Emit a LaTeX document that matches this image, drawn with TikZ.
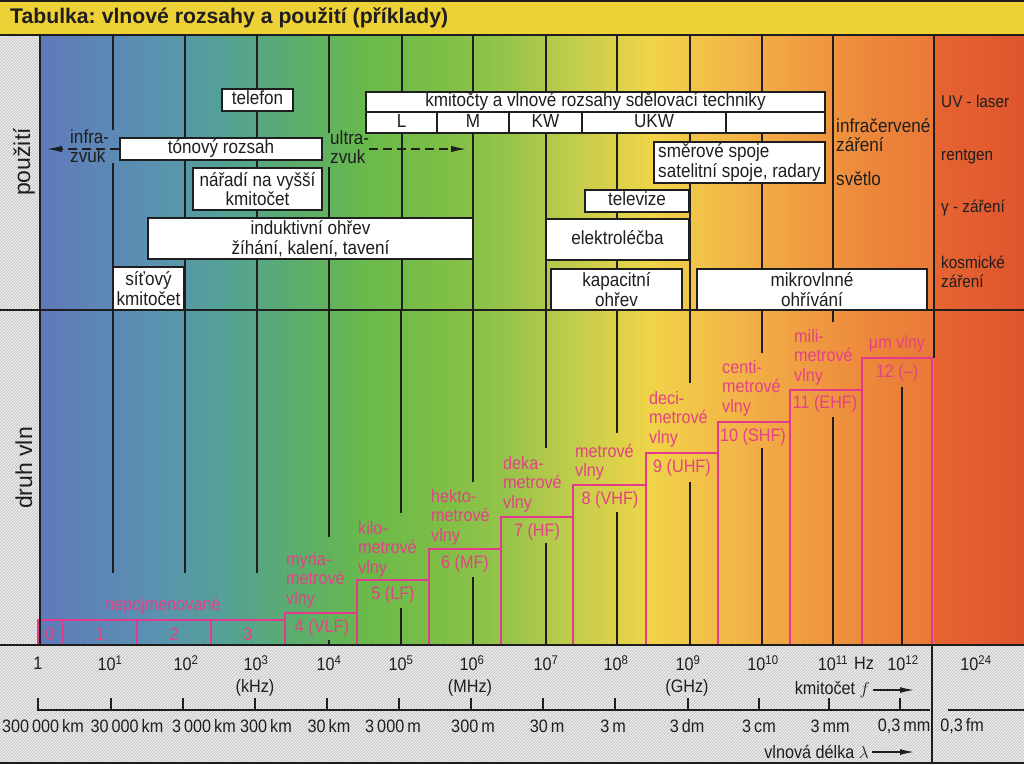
\documentclass[tikz,border=0pt]{standalone}
\usepackage{fontspec}
\setmainfont{Liberation Sans}[FakeStretch=0.9]
\newfontfamily\hdfont{Liberation Sans}
\usetikzlibrary{patterns,arrows.meta}
\definecolor{ink}{RGB}{30,30,30}
\definecolor{pinkc}{RGB}{228,58,142}
\definecolor{pinkt}{RGB}{226,66,134}
\definecolor{hdr}{RGB}{238,208,55}
\definecolor{hatch}{RGB}{203,203,203}
\definecolor{s0}{RGB}{95,122,185}
\definecolor{s1}{RGB}{90,145,178}
\definecolor{s2}{RGB}{85,160,152}
\definecolor{s3}{RGB}{90,172,112}
\definecolor{s4}{RGB}{105,185,75}
\definecolor{s5}{RGB}{125,190,70}
\definecolor{s6}{RGB}{152,196,75}
\definecolor{s7}{RGB}{198,205,75}
\definecolor{s8}{RGB}{240,212,72}
\definecolor{s9}{RGB}{242,185,72}
\definecolor{s10}{RGB}{240,158,66}
\definecolor{s11}{RGB}{236,132,58}
\definecolor{s12}{RGB}{233,120,55}
\definecolor{s13}{RGB}{230,100,50}
\definecolor{s14}{RGB}{222,85,45}
\newcommand\tpow[1]{10\textsuperscript{#1}}
\begin{document}
\begin{tikzpicture}[x=1pt,y=-1pt,
  box/.style={draw=ink, line width=1.4pt, fill=white, inner sep=0pt, align=center, text=ink, font=\fontsize{19}{19.5}\selectfont},
  sbox/.style={box, text height=13.5pt, text depth=4pt},
  grid/.style={draw=ink, line width=1.3pt},
  pk/.style={draw=pinkc, line width=1.5pt},
  ptxt/.style={text=pinkt, font=\fontsize{18}{19.5}\selectfont, inner sep=0pt, align=left},
  lbl/.style={text=ink, font=\fontsize{19}{19.5}\selectfont, inner sep=0pt, align=left},
  rtx/.style={text=ink, font=\fontsize{17}{19}\selectfont, inner sep=0pt, align=left},
  ax/.style={text=ink, font=\fontsize{18}{20}\selectfont, inner sep=0pt},
  axl/.style={draw=ink, line width=1.3pt},
  arr/.style={draw=ink, line width=1.3pt, -{Latex[length=15pt,width=6.5pt]}},
  dsh/.style={arr, dash pattern=on 9pt off 5pt}]
\useasboundingbox (0,0) rectangle (1024,764);
% header
\fill[hdr] (0,0) rectangle (1024,35);
\draw[ink, line width=1.5pt] (0,1) -- (1024,1);
\node[anchor=west, inner sep=0pt, text=ink, font=\hdfont\bfseries\fontsize{21.2}{22}\selectfont] (title) at (10,18) {Tabulka:\hspace{6pt}vlnové rozsahy a použití (příklady)};
% spectrum background
\foreach \xa/\xb/\ca/\cb in {40/150/s0/s1, 150/220/s1/s2, 220/290/s2/s3, 290/365/s3/s4, 365/440/s4/s5, 440/510/s5/s6, 510/580/s6/s7, 580/650/s7/s8, 650/725/s8/s9, 725/800/s9/s10, 800/880/s10/s11, 880/935/s11/s12, 935/1024/s13/s14}
  \shade[left color=\ca, right color=\cb] (\xa-0.5,35) rectangle (\xb+0.5,645);
% hatched grey areas
\fill[hatch] (0,35) rectangle (40,645);
\fill[pattern=north east lines, pattern color=white] (0,35) rectangle (40,645);
\fill[hatch] (0,645) rectangle (1024,764);
\fill[pattern=north east lines, pattern color=white] (0,645) rectangle (1024,764);
% grid lines, upper section
\draw[grid] (113,35) -- (113,130);
\draw[grid] (113,163) -- (113,310);
\draw[grid] (329,35) -- (329,133);
\draw[grid] (329,167) -- (329,310);
\foreach \x in {185,257,402,473,546,617,690,762,833}
  \draw[grid] (\x,35) -- (\x,310);
\draw[grid] (934,35) -- (934,358);
% grid lines, lower section
\foreach \x/\a/\b in {113/310/573, 185/310/573, 257/310/573, 329/310/537, 329/640/645, 401/310/513, 401/608/645, 473/310/482, 473/577/645, 546/310/448, 546/543/645, 617/310/433, 617/512/645, 690/310/383, 690/482/645, 762/310/353, 762/448/645, 833/310/322, 833/417/645, 902/387/645}
  \draw[grid] (\x,\a) -- (\x,\b);
% pink steps
\foreach \a/\b/\t in {38/63/620, 63/137/620, 137/211/620, 211/285/620, 285/357/613, 357/429/580, 429/501/549, 501/573/517, 573/646/485, 646/718/453, 718/790/422, 790/862/390, 862/932/358}
  \draw[pk] (\a,\t) rectangle (\b,645);
% frame lines
\draw[ink, line width=2pt] (0,35) -- (1024,35);
\draw[ink, line width=1.5pt] (0,310) -- (1024,310);
\draw[ink, line width=2pt] (0,645) -- (1024,645);
\draw[grid] (40,35) -- (40,645);
\draw[ink, line width=1.5pt] (0,763) -- (1024,763);
% side labels
\node[rotate=90, inner sep=0pt, text=ink, font=\hdfont\fontsize{23}{24}\selectfont] (pouz) at (24,162) {použití};
\node[rotate=90, inner sep=0pt, text=ink, font=\hdfont\fontsize{23}{24}\selectfont] (druh) at (24,468) {druh vln};
% application boxes
\node[sbox, minimum width=71, minimum height=22] (tel) at (257.5,100) {telefon};
\node[sbox, minimum width=459, minimum height=20] (kmt) at (595.5,102) {kmitočty a vlnové rozsahy sdělovací techniky};
\node[sbox, minimum width=71, minimum height=21] (bL) at (401.5,122.5) {L};
\node[sbox, minimum width=72, minimum height=21] (bM) at (473,122.5) {M};
\node[sbox, minimum width=73, minimum height=21] (bKW) at (545.5,122.5) {KW};
\node[sbox, minimum width=144, minimum height=21] (bUKW) at (654,122.5) {UKW};
\node[sbox, minimum width=99, minimum height=21] (bE) at (775.5,122.5) {};
\node[sbox, minimum width=202, minimum height=22] (ton) at (221,149) {tónový rozsah};
\node[box, minimum width=129, minimum height=42] (nar) at (257.5,189) {nářadí na vyšší\\kmitočet};
\node[box, minimum width=325, minimum height=41] (ind) at (310.5,238.5) {induktivní ohřev\\žíhání, kalení, tavení};
\node[box, minimum width=71, minimum height=43] (sit) at (148.5,288.5) {síťový\\kmitočet};
\node[box, minimum width=171, minimum height=41, align=left] (sme) at (739.5,162.5) {směrové spoje\\satelitní spoje, radary};
\node[sbox, minimum width=104, minimum height=22] (tv) at (637,201) {televize};
\node[sbox, minimum width=143, minimum height=41] (ele) at (617.5,239.5) {elektroléčba};
\node[box, minimum width=131, minimum height=41] (kap) at (616.5,289.5) {kapacitní\\ohřev};
\node[box, minimum width=230, minimum height=41] (mik) at (812,289.5) {mikrovlnné\\ohřívání};
% free texts
\node[lbl, anchor=west] (infra) at (70,146) {infra-\\zvuk};
\node[lbl, anchor=west] (ultra) at (330,147) {ultra-\\zvuk};
\node[lbl, anchor=west] (ir) at (836,135) {infračervené\\záření};
\node[lbl, anchor=west] (svet) at (836,179) {světlo};
\node[rtx, anchor=west] (uv) at (941,101) {UV - laser};
\node[rtx, anchor=west] (rg) at (941,157) {rentgen};
\node[rtx, anchor=west] (gam) at (941,208) {γ - záření};
\node[rtx, anchor=west] (kos) at (941,272) {kosmické\\záření};
% dashed arrows
\coordinate (infL) at (47,149);
\coordinate (ultR) at (466,149);
\draw[dsh] (ton.west) -- (infL);
\draw[dsh] (ultra.east |- ton.east) -- (ultR);
% wave names
\node[ptxt] (nep) at (163,606) {nepojmenované};
\node[ptxt, anchor=west] (myr) at (286,580) {myria-\\metrové\\vlny};
\node[ptxt, anchor=west] (kil) at (358,549) {kilo-\\metrové\\vlny};
\node[ptxt, anchor=west] (hek) at (431,517) {hekto-\\metrové\\vlny};
\node[ptxt, anchor=west] (dek) at (503,484) {deka-\\metrové\\vlny};
\node[ptxt, anchor=west] (met) at (575,462) {metrové\\vlny};
\node[ptxt, anchor=west] (dec) at (649,419) {deci-\\metrové\\vlny};
\node[ptxt, anchor=west] (cen) at (722,388) {centi-\\metrové\\vlny};
\node[ptxt, anchor=west] (mil) at (794,357) {mili-\\metrové\\vlny};
\node[ptxt] (mum) at (897,344) {μm vlny};
% band numbers
\node[ptxt] (w0) at (50,634) {0};
\node[ptxt] (w1) at (100,634) {1};
\node[ptxt] (w2) at (174,634) {2};
\node[ptxt] (w3) at (248,634) {3};
\node[ptxt] (w4) at (322,628) {4 (VLF)};
\node[ptxt] (w5) at (393,595) {5 (LF)};
\node[ptxt] (w6) at (465,564) {6 (MF)};
\node[ptxt] (w7) at (537,532) {7 (HF)};
\node[ptxt] (w8) at (610,500) {8 (VHF)};
\node[ptxt] (w9) at (682,468) {9 (UHF)};
\node[ptxt] (w10) at (753,437) {10 (SHF)};
\node[ptxt] (w11) at (825,404) {11 (EHF)};
\node[ptxt] (w12) at (897,373) {12 (–)};
% frequency axis labels
\node[ax] (f0) at (38,663) {1};
\node[ax] (f1) at (110,663) {\tpow{1}};
\node[ax] (f2) at (186,663) {\tpow{2}};
\node[ax] (f3) at (256,663) {\tpow{3}};
\node[ax] (f4) at (329,663) {\tpow{4}};
\node[ax] (f5) at (401,663) {\tpow{5}};
\node[ax] (f6) at (472,663) {\tpow{6}};
\node[ax] (f7) at (546,663) {\tpow{7}};
\node[ax] (f8) at (616,663) {\tpow{8}};
\node[ax] (f9) at (688,663) {\tpow{9}};
\node[ax] (f10) at (763,663) {\tpow{10}};
\node[ax] (f11) at (833,663) {\tpow{11}};
\node[ax] (hz) at (864,663) {Hz};
\node[ax] (f12) at (903,663) {\tpow{12}};
\node[ax] (f24) at (976,663) {\tpow{24}};
\node[ax] (khz) at (255,688) {(kHz)};
\node[ax] (mhz) at (470,688) {(MHz)};
\node[ax] (ghz) at (687,688) {(GHz)};
\node[ax, anchor=east] (kmf) at (870,690) {kmitočet $f$};
\coordinate (kmfE) at (914,690);
\draw[arr, -{Latex[length=14pt,width=6pt]}] (kmf.east) ++(3,0) -- (kmfE);
% wavelength axis
\draw[axl] (38,698) -- (38,710) -- (930,710);
\draw[axl] (948,710) -- (1024,710);
\foreach \t in {111,183,255,327,399,471,543,615,688,759,829,900}
  \draw[axl] (\t,698) -- (\t,710);
\draw[axl] (932,645) -- (932,764);
\node[ax] (l0) at (43,726) {300\,000\,km};
\node[ax] (l1) at (127,726) {30\,000\,km};
\node[ax] (l2) at (204,726) {3\,000\,km};
\node[ax] (l3) at (266,726) {300\,km};
\node[ax] (l4) at (329,726) {30\,km};
\node[ax] (l5) at (393,726) {3\,000\,m};
\node[ax] (l6) at (473,726) {300\,m};
\node[ax] (l7) at (547,726) {30\,m};
\node[ax] (l8) at (613,726) {3\,m};
\node[ax] (l9) at (687,726) {3\,dm};
\node[ax] (l10) at (759,726) {3\,cm};
\node[ax] (l11) at (830,726) {3\,mm};
\node[ax] (l12) at (904,726) {0,3\,mm};
\node[ax] (l24) at (962,726) {0,3\,fm};
\node[ax, anchor=east] (vld) at (869,752) {vlnová délka $\lambda$};
\coordinate (vldE) at (914,752);
\draw[arr, -{Latex[length=14pt,width=6pt]}] (vld.east) ++(3,0) -- (vldE);
\end{tikzpicture}
\end{document}
